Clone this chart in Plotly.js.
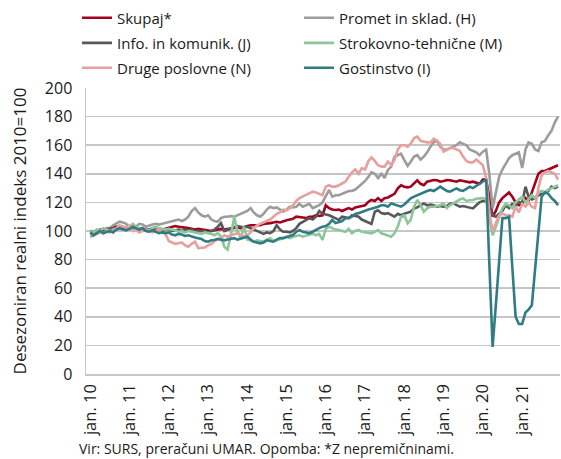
<!DOCTYPE html>
<html>
<head>
<meta charset="utf-8">
<script src="https://cdn.plot.ly/plotly-3.0.1.min.js"></script>
<style>
  html, body { margin: 0; padding: 0; background: #ffffff; }
  #chart { width: 561px; height: 459px; }
</style>
</head>
<body>
<div id="chart"></div>
<script>
// Monthly data, jan. 2010 – dec. 2021
const startYear = 2010;
const endYear = 2021;

const seriesNames = [
  "Skupaj*",
  "Promet in sklad. (H)",
  "Info. in komunik. (J)",
  "Strokovno-tehnične (M)",
  "Druge poslovne (N)",
  "Gostinstvo (I)"
];

const skupaj = [
  100, 99, 100, 100.5, 101, 101, 102, 103, 103, 103.5, 103, 102,
  102.5, 101.5, 101, 101, 101.5, 101, 100.5, 101, 101, 100.5, 101, 101.5,
  102, 103, 103.5, 103, 102.5, 102, 102, 101.5, 101, 101.5, 101, 100.5,
  100.5, 100, 100.5, 101, 101.5, 101, 101.5, 102, 102, 102.5, 102, 103,
  103.5, 104, 104, 104.5, 104, 105, 105, 105.5, 106, 106.5, 106, 107,
  107.5, 108, 108.5, 110, 110, 109.5, 109, 110, 110, 111, 110.5, 111,
  118, 116, 115, 114.7, 115, 114, 115, 116, 115, 116.5, 117, 117.5,
  118, 120.5, 121.7, 121, 123, 121, 123, 123.5, 124.5, 126, 129.8, 132,
  131, 130.5, 131, 133, 135.5, 133, 132, 134.5, 135, 135.7, 135.5, 134.5,
  135, 135.7, 135.5, 135, 134.5, 135.5, 135, 134.5, 134, 134.5, 134, 133,
  136, 136, 124, 110, 114, 120, 123, 125, 127, 124, 120, 118,
  119, 123, 121, 127, 133, 140, 142, 142, 143, 144, 145, 146
];

const promet = [
  96, 97, 98, 99, 100.5, 101, 102, 104, 105, 106.5, 106, 105,
  102, 102.5, 103, 105, 104.5, 103, 104, 104.5, 105, 104.5, 105, 105.5,
  106, 106.5, 107.5, 108, 107, 108, 110, 114, 116, 113, 111, 110,
  111, 108, 107, 106.5, 109, 110, 110, 110.5, 110, 111, 112, 113,
  114, 116, 113, 111, 110, 112, 115, 117, 116, 116.5, 115, 113.5,
  115, 117, 116.5, 117, 119, 117, 118, 119, 116, 117, 118, 120,
  124, 128.7, 124, 125, 125, 126, 127, 128, 128, 129, 131, 133,
  135, 138, 141, 140, 137, 140, 137, 142.7, 145, 152, 153, 154,
  149.6, 145.5, 148.5, 152, 153, 150, 152, 155, 159, 162, 163, 159,
  157, 157, 158, 159, 160, 162, 161, 160, 157, 156, 155, 153,
  155.5, 157, 140, 116, 128, 138, 143, 147, 151, 153, 154, 155,
  144, 157, 162, 161, 157, 156, 162, 163, 167, 170, 176, 180
];

const info = [
  100, 99, 100, 101, 100.5, 101, 101.5, 102, 101, 102, 101, 101.5,
  102, 101, 101.5, 102, 101, 100.5, 101, 102, 100.5, 101, 100, 100.5,
  101, 100, 100.5, 101, 100, 101, 100.5, 101, 100, 99.5, 100, 100,
  99, 100, 101, 103, 105.5, 100, 101, 102, 103, 103.5, 103, 102.5,
  103, 102, 101, 100.5, 99, 98, 99, 98.5, 100, 104, 101, 99.5,
  99.5, 99, 100, 102, 105, 106.5, 107.5, 109, 108, 110, 114, 112,
  111.5, 111, 110, 109, 107.7, 110, 109.5, 109, 111, 110.5, 110, 108,
  107, 106, 105, 113.5, 114.5, 112.5, 112, 112.5, 111, 110, 112, 111,
  112, 113, 113.5, 115.8, 116.5, 118, 119.3, 118, 118.5, 118, 117, 117.5,
  117, 117.5, 119, 119.3, 118, 117, 117.5, 117, 116, 115.8, 118, 120,
  121, 121, 118, 111, 110, 112, 114, 118, 116, 119, 118, 120,
  120, 131, 124, 122, 123, 125, 126, 127, 128, 131, 130, 131
];

const strokovno = [
  100, 99, 101, 100, 102, 101, 100, 99.5, 101, 103, 101, 102,
  102.5, 105, 103, 102, 101.5, 101, 100, 102, 103, 102, 101.5, 101,
  101.5, 101, 100.5, 99.5, 100, 99, 100, 99.5, 99, 98.5, 98, 99,
  98.5, 98, 97, 98.5, 96, 89, 87, 97, 110, 100, 95, 103,
  94, 93, 92.5, 93.5, 93, 92.5, 94, 95, 93, 93.5, 94, 95,
  96, 95, 96, 96.5, 97, 96, 96.5, 97.5, 98, 97, 98, 93.7,
  101.5, 103, 102, 101, 100.7, 100, 99.5, 101.5, 98.4, 100, 100.7, 99.5,
  99, 98.7, 98.4, 99.5, 100.7, 98.4, 97.5, 97, 96, 98.4, 103, 110,
  111, 105.4, 107.7, 117, 121.7, 118, 113.5, 115.8, 117, 117, 117.5, 118,
  119.3, 116, 118, 119.5, 120.5, 122, 122.8, 121, 121.5, 121.7, 122.5, 123,
  123, 122, 111, 97, 103, 110, 116, 119, 118, 116, 120, 122,
  124, 120, 122, 125, 123, 127, 128, 127, 129, 130, 131, 132
];

const druge = [
  98, 97, 99, 100, 98, 100, 99, 101, 102, 104, 103, 102,
  104, 100, 101, 99, 100, 101, 100, 99, 100, 101, 99, 98,
  93, 92, 91, 91.5, 92, 90, 89, 91, 92.5, 88, 88, 88.5,
  90, 91, 93, 94, 95, 97, 96, 97, 98, 98.5, 97, 96,
  97, 99, 102, 104, 105, 106, 106.5, 108, 110, 112, 113, 115,
  114.5, 116, 118, 121, 123, 124, 125, 126, 127.5, 127, 126, 125,
  131, 132, 131, 131, 132, 133, 134.5, 138, 141, 143, 140, 144,
  143, 149, 151.5, 149, 146, 145, 145, 148.5, 146, 149.6, 157, 160,
  160, 159, 161, 165, 166, 163, 162.5, 162, 162, 164.5, 163, 161,
  155.5, 157, 158, 158, 157, 156, 152, 149, 148, 148, 150, 148,
  146, 137, 113, 100, 105, 111, 112, 111, 111, 110, 117, 113,
  119, 117, 120, 117, 116, 130, 139, 141, 142, 141, 140, 136
];

const gostinstvo = [
  99, 97, 98.5, 100, 98.5, 99.5, 100, 99, 101, 102, 101, 100.5,
  101.5, 103, 102, 101, 102, 100, 99.5, 100.5, 99.5, 98.5, 99, 98.5,
  99, 97.5, 97, 98, 97.5, 96.5, 97, 96, 95.5, 95, 94.5, 93,
  92.5, 93.5, 93.7, 94.5, 94, 93.5, 94, 94.5, 95, 94, 94.5, 95,
  96, 94, 92.5, 92, 91.4, 92, 93.5, 93, 92.5, 94, 95, 95,
  96, 96.5, 97.2, 99.5, 100.7, 99.5, 99, 98.4, 99.5, 101, 102, 103,
  103.5, 105, 107.7, 105.5, 106, 107, 108.9, 109, 110, 112, 112.5, 113.5,
  114.5, 115, 115.5, 116, 117, 118, 118, 117, 119.3, 118.5, 117.5, 117,
  118.5, 121, 122.8, 124, 125, 126.3, 127.5, 128, 128.7, 128, 129.5, 131,
  129.5, 128, 127.5, 128.5, 129.8, 128.5, 128, 129.5, 131, 130, 131.5, 132.5,
  134, 136, 78, 19, 48, 79, 109, 109, 110, 75, 40, 35,
  35, 43, 45, 48, 72, 98, 124, 127, 126, 123, 121, 118
];

const tickLabels = ["jan. 10", "jan. 11", "jan. 12", "jan. 13", "jan. 14", "jan. 15",
                    "jan. 16", "jan. 17", "jan. 18", "jan. 19", "jan. 20", "jan. 21"];

const yTitle = "Desezoniran realni indeks 2010=100";
const footnote = "Vir: SURS, preračuni UMAR. Opomba: *Z nepremičninami.";

// month positions
const months = [];
for (let y = startYear; y <= endYear; y++) {
  for (let m = 1; m <= 12; m++) {
    months.push(y + "-" + String(m).padStart(2, "0") + "-01");
  }
}
const tickVals = [];
for (let y = startYear; y <= endYear; y++) tickVals.push(y + "-01-01");

const FONT = "Open Sans, Noto Sans, sans-serif";
const TXT = "#1a1a1a";

const colors = ["#A4001E", "#9C9C9C", "#585858", "#8CC69A", "#E6A09E", "#2F7C84"];
const data = [skupaj, promet, info, strokovno, druge, gostinstvo];
const legendIds = ["legend", "legend", "legend2", "legend2", "legend3", "legend3"];

const traces = data.map((vals, i) => ({
  type: "scatter",
  mode: "lines",
  name: seriesNames[i],
  x: months,
  y: vals,
  line: { color: colors[i], width: 2.6 },
  legend: legendIds[i],
  hoverinfo: "x+y+name"
}));

const legendBase = {
  orientation: "h",
  x: -0.019,
  xanchor: "left",
  yanchor: "middle",
  entrywidth: 177,
  entrywidthmode: "pixels",
  bgcolor: "rgba(0,0,0,0)",
  borderwidth: 0,
  font: { family: FONT, size: 15, color: TXT },
  traceorder: "normal"
};

const layout = {
  width: 561,
  height: 459,
  margin: { l: 86, r: 1, t: 88, b: 85, autoexpand: false },
  paper_bgcolor: "#ffffff",
  plot_bgcolor: "#ffffff",
  font: { family: FONT, color: TXT },
  showlegend: true,
  legend: Object.assign({}, legendBase, { y: 1.245 }),
  legend2: Object.assign({}, legendBase, { y: 1.157 }),
  legend3: Object.assign({}, legendBase, { y: 1.07 }),
  xaxis: {
    type: "date",
    range: ["2009-11-22", "2021-12-19"],
    tickmode: "array",
    tickvals: tickVals,
    ticktext: tickLabels,
    tickangle: -90,
    ticks: "",
    showgrid: false,
    zeroline: false,
    showline: true,
    linecolor: "#C6C6C6",
    linewidth: 1.5,
    tickfont: { family: FONT, size: 16.5, color: TXT },
    ticklabelstandoff: 2
  },
  yaxis: {
    range: [0, 200],
    tick0: 0,
    dtick: 20,
    ticks: "",
    showgrid: true,
    gridcolor: "#C6C6C6",
    gridwidth: 1.5,
    zeroline: false,
    showline: true,
    linecolor: "#C6C6C6",
    linewidth: 1.5,
    tickfont: { family: FONT, size: 16, color: TXT },
    ticklabelstandoff: 9,
    title: { text: yTitle, font: { family: FONT, size: 17, color: TXT }, standoff: 14 }
  },
  annotations: [{
    text: footnote,
    xref: "paper", yref: "paper",
    x: -0.019, y: -0.262,
    xanchor: "left", yanchor: "middle",
    showarrow: false,
    font: { family: FONT, size: 14, color: TXT }
  }]
};

Plotly.newPlot("chart", traces, layout, { displayModeBar: false, staticPlot: true });
</script>
</body>
</html>
